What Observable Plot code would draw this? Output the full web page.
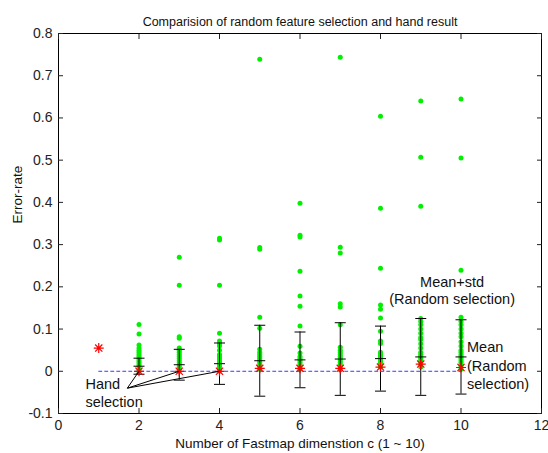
<!DOCTYPE html>
<html>
<head>
<meta charset="utf-8">
<script src="https://cdn.jsdelivr.net/npm/d3@7"></script>
<script src="https://cdn.jsdelivr.net/npm/@observablehq/plot@0.6"></script>
<style>
  body { margin: 0; background: #fff; }
  svg { font-family: "Liberation Sans", Arial, sans-serif; }
</style>
</head>
<body>
<div id="chart"></div>
<script>
// ---- data ----
const chartTitle = "Comparision of random feature selection and hand result";
const xLabel = "Number of Fastmap dimenstion c (1 ~ 10)";
const yLabel = "Error-rate";
const xTicks = [0, 2, 4, 6, 8, 10, 12];
const yTicks = [-0.1, 0, 0.1, 0.2, 0.3, 0.4, 0.5, 0.6, 0.7, 0.8];

// random feature selection error rates per dimension
const randomDim2 = [0.111, 0.088, 0.062, 0.055, 0.05, 0.045, 0.04, 0.035, 0.03, 0.025, 0.02, 0.015, 0.01, 0.005, 0.0];
const randomDim3 = [0.27, 0.204, 0.082, 0.078, 0.055, 0.05, 0.045, 0.04, 0.035, 0.03, 0.025, 0.02, 0.015, 0.01, 0.005, 0.0];
const randomDim4 = [0.315, 0.311, 0.204, 0.09, 0.072, 0.065, 0.06, 0.05, 0.04, 0.035, 0.03, 0.025, 0.02, 0.015, 0.01, 0.005, 0.0];
const randomDim5 = [0.739, 0.293, 0.289, 0.128, 0.102, 0.052, 0.045, 0.04, 0.035, 0.03, 0.025, 0.02, 0.015, 0.01, 0.005];
const randomDim6 = [0.398, 0.322, 0.318, 0.237, 0.178, 0.154, 0.107, 0.059, 0.043, 0.035, 0.03, 0.025, 0.02, 0.015, 0.01, 0.005];
const randomDim7 = [0.744, 0.294, 0.28, 0.16, 0.152, 0.11, 0.057, 0.05, 0.045, 0.04, 0.035, 0.03, 0.025, 0.02, 0.015, 0.01, 0.005];
const randomDim8 = [0.604, 0.386, 0.244, 0.157, 0.147, 0.126, 0.095, 0.072, 0.066, 0.045, 0.04, 0.035, 0.03, 0.025, 0.02, 0.015, 0.01];
const randomDim9 = [0.64, 0.507, 0.391, 0.125, 0.118, 0.11, 0.1, 0.09, 0.08, 0.075, 0.065, 0.055, 0.045, 0.04, 0.035, 0.03, 0.025, 0.02, 0.015, 0.01];
const randomDim10 = [0.645, 0.505, 0.239, 0.128, 0.118, 0.11, 0.1, 0.09, 0.082, 0.07, 0.06, 0.05, 0.045, 0.04, 0.035, 0.03, 0.025, 0.02, 0.015, 0.01, 0.005];
const randomDims = [2, 3, 4, 5, 6, 7, 8, 9, 10];
const randomSets = [randomDim2, randomDim3, randomDim4, randomDim5, randomDim6, randomDim7, randomDim8, randomDim9, randomDim10];

// mean and std of random selection
const meanErr = [0.012, 0.0155, 0.018, 0.025, 0.027, 0.029, 0.030, 0.034, 0.034];
const stdErr  = [0.019, 0.0365, 0.049, 0.084, 0.066, 0.086, 0.077, 0.091, 0.088];

// hand selection
const handDims = [1, 2, 3, 4, 5, 6, 7, 8, 9, 10];
const handErr  = [0.055, 0.0, 0.0, 0.0, 0.007, 0.007, 0.007, 0.010, 0.017, 0.009];

// annotations
const annoMeanStd = {x: 9.78, y: 0.209, text: "Mean+std\n(Random selection)"};
const annoMean = {x: 10.15, y: 0.055, text: "Mean\n(Random\nselection)"};
const annoHand = {x: 0.67, y: -0.031, text: "Hand\nselection"};
const handPointer = {x: 1.71, y: -0.040};
const handTargets = [2, 3, 4];

// ---- derived tables ----
const randomPoints = randomSets.flatMap((vals, i) => vals.map(v => ({dim: randomDims[i], err: v})));
const stats = randomDims.map((d, i) => ({dim: d, mean: meanErr[i], lo: meanErr[i] - stdErr[i], hi: meanErr[i] + stdErr[i]}));
const hand = handDims.map((d, i) => ({dim: d, err: handErr[i]}));
const pointerLinks = handTargets.map(t => ({x1: handPointer.x, y1: handPointer.y, x2: t, y2: hand.find(h => h.dim === t).err}));

// custom symbols
const hline = {draw(ctx) { ctx.moveTo(-5.5, 0); ctx.lineTo(5.5, 0); }};
const starSym = {draw(ctx) {
  const r = 5, d = 3.6;
  ctx.moveTo(-r, 0); ctx.lineTo(r, 0);
  ctx.moveTo(0, -r); ctx.lineTo(0, r);
  ctx.moveTo(-d, -d); ctx.lineTo(d, d);
  ctx.moveTo(-d, d); ctx.lineTo(d, -d);
}};

const fmt = d => String(Math.round(d * 10) / 10);

const chart = Plot.plot({
  width: 548,
  height: 453,
  marginLeft: 58,
  marginRight: 7,
  marginTop: 33,
  marginBottom: 40,
  style: {fontFamily: "'Liberation Sans', Arial, sans-serif", fontSize: "13px", color: "#222"},
  x: {domain: [0, 12]},
  y: {domain: [-0.1, 0.8]},
  marks: [
    Plot.dot(randomPoints, {x: "dim", y: "err", r: 2.5, fill: "#00f000", stroke: "none"}),
    Plot.ruleX(stats, {x: "dim", y1: "lo", y2: "hi", stroke: "#000", strokeWidth: 1}),
    Plot.dot(stats, {x: "dim", y: "lo", symbol: hline, r: 5, stroke: "#000", fill: "none", strokeWidth: 1}),
    Plot.dot(stats, {x: "dim", y: "hi", symbol: hline, r: 5, stroke: "#000", fill: "none", strokeWidth: 1}),
    Plot.dot(stats, {x: "dim", y: "mean", symbol: hline, r: 5, stroke: "#000", fill: "none", strokeWidth: 1}),
    Plot.line(hand, {x: "dim", y: () => 0, stroke: "#3a3aff", strokeDasharray: "3,3", strokeWidth: 1}),
    Plot.dot(hand, {x: "dim", y: "err", symbol: starSym, r: 5, stroke: "#ff0000", fill: "none", strokeWidth: 1.2}),
    Plot.link(pointerLinks, {x1: "x1", y1: "y1", x2: "x2", y2: "y2", stroke: "#000", strokeWidth: 1}),
    Plot.text([annoMeanStd], {x: "x", y: "y", text: "text", textAnchor: "middle", lineAnchor: "top", lineHeight: 1.18, fontSize: 14.5, fill: "#111", dy: -8}),
    Plot.text([annoMean], {x: "x", y: "y", text: "text", textAnchor: "start", lineAnchor: "top", lineHeight: 1.28, fontSize: 14.5, fill: "#111", dy: -9}),
    Plot.text([annoHand], {x: "x", y: "y", text: "text", textAnchor: "start", lineAnchor: "top", lineHeight: 1.28, fontSize: 14.5, fill: "#111", dy: -9}),
    Plot.frame({stroke: "#000", strokeWidth: 1}),
    Plot.axisX({anchor: "bottom", ticks: xTicks, tickSize: -5, tickPadding: 12, tickFormat: fmt, fontSize: 14, label: null}),
    Plot.axisX({anchor: "top", ticks: xTicks, tickSize: -5, text: null, label: null}),
    Plot.axisY({anchor: "left", ticks: yTicks, tickSize: -5, tickPadding: 11, tickFormat: fmt, fontSize: 14, label: null}),
    Plot.axisY({anchor: "right", ticks: yTicks, tickSize: -5, text: null, label: null}),
    Plot.text([chartTitle], {frameAnchor: "top", dy: -16, fontSize: 12.5, fill: "#111"}),
    Plot.text([xLabel], {frameAnchor: "bottom", dy: 34, fontSize: 13.5, fill: "#111"}),
    Plot.text([yLabel], {frameAnchor: "left", dx: -41, rotate: -90, fontSize: 13.5, fill: "#111"})
  ]
});
document.getElementById("chart").appendChild(chart);
</script>
</body>
</html>
